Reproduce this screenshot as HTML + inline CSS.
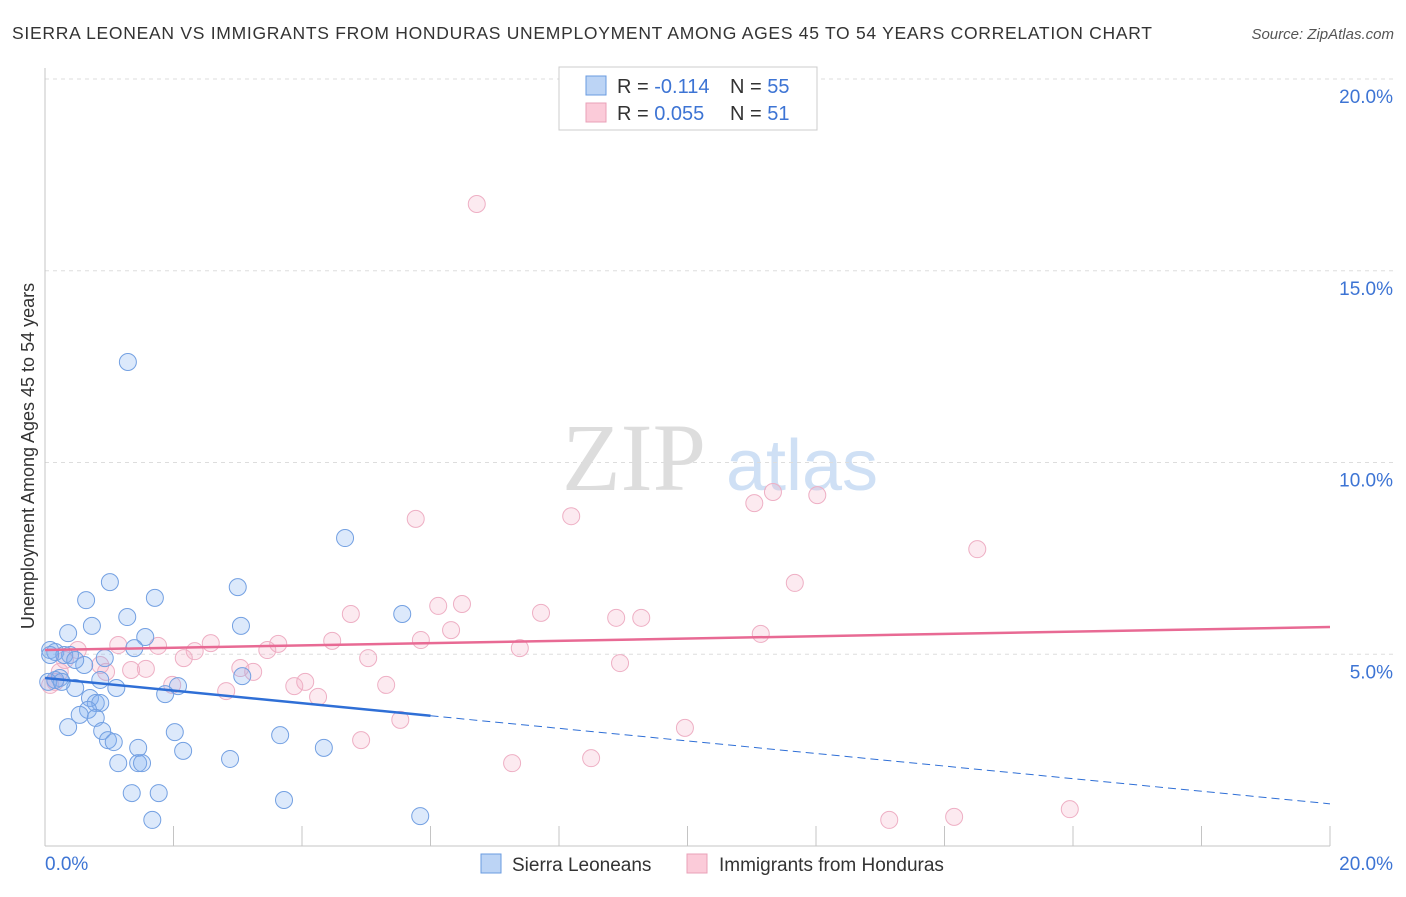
<!DOCTYPE html>
<html><head><meta charset="utf-8"><style>
body{margin:0;background:#fff;font-family:"Liberation Sans",sans-serif}
svg text{font-family:"Liberation Sans",sans-serif}
</style></head><body>
<svg id="c" width="1406" height="892">
<text x="12" y="39" font-size="17.5" fill="#333" textLength="1140" lengthAdjust="spacing">SIERRA LEONEAN VS IMMIGRANTS FROM HONDURAS UNEMPLOYMENT AMONG AGES 45 TO 54 YEARS CORRELATION CHART</text>
<text x="1394" y="39" font-size="15" fill="#555" font-style="italic" text-anchor="end">Source: ZipAtlas.com</text>
<text x="634" y="490" font-size="96" fill="#ddd" text-anchor="middle" style="font-family:'Liberation Serif',serif">ZIP</text>
<text x="802" y="490" font-size="72" fill="#cfe0f5" text-anchor="middle">atlas</text>
<text transform="translate(34,456) rotate(-90)" font-size="18" fill="#333" text-anchor="middle">Unemployment Among Ages 45 to 54 years</text>
<g id="grid"></g><g id="pts"></g><g id="trend"></g>
<g>
<rect x="559" y="67" width="258" height="63" fill="#fff" stroke="#ccc"/>
<rect x="586" y="76" width="20" height="19" fill="#bcd4f5" stroke="#6a9be0"/>
<rect x="586" y="103" width="20" height="19" fill="#fbcbd9" stroke="#e9a0b8"/>
<text x="617" y="93" font-size="20" fill="#333">R = <tspan fill="#3d74d4">-0.114</tspan></text>
<text x="730" y="93" font-size="20" fill="#333">N = <tspan fill="#3d74d4">55</tspan></text>
<text x="617" y="120" font-size="20" fill="#333">R = <tspan fill="#3d74d4">0.055</tspan></text>
<text x="730" y="120" font-size="20" fill="#333">N = <tspan fill="#3d74d4"> 51</tspan></text>
</g>
<g>
<rect x="481" y="854" width="20" height="19" fill="#bcd4f5" stroke="#6a9be0"/>
<text x="512" y="871" font-size="19" fill="#333">Sierra Leoneans</text>
<rect x="687" y="854" width="20" height="19" fill="#fbcbd9" stroke="#e9a0b8"/>
<text x="719" y="871" font-size="19" fill="#333">Immigrants from Honduras</text>
</g>
<text x="45" y="870" font-size="19" fill="#3d74d4">0.0%</text>
<text x="1393" y="870" font-size="19" fill="#3d74d4" text-anchor="end">20.0%</text>
</svg>
<script>
const yTicks=[20,15,10,5];
const yTickLabels=["20.0%","15.0%","10.0%","5.0%"];
const xTicks=[0,2,4,6,8,10,12,14,16,18,20];
const blueX=[1.29,4.67,1.01,3.00,1.71,0.64,1.28,5.56,3.05,0.73,0.36,1.56,1.39,0.08,0.16,0.39,0.93,0.61,0.23,0.16,0.05,0.47,1.11,2.07,1.87,3.07,0.70,0.79,0.86,0.67,0.54,0.79,0.36,0.89,0.98,1.07,2.02,3.66,1.45,2.15,4.34,1.14,1.45,1.51,2.88,1.35,1.77,3.72,1.67,5.84,0.30,0.47,0.26,0.08,0.86];
const blueY=[12.62,8.03,6.88,6.75,6.47,6.41,5.97,6.05,5.74,5.74,5.55,5.45,5.16,5.11,5.06,4.98,4.90,4.72,4.38,4.33,4.28,4.12,4.12,4.17,3.96,4.43,3.86,3.73,3.73,3.55,3.42,3.34,3.10,3.00,2.76,2.71,2.97,2.89,2.56,2.48,2.56,2.16,2.16,2.16,2.27,1.38,1.38,1.20,0.68,0.78,4.98,4.85,4.28,4.98,4.33];
const pinkX=[6.72,11.33,11.04,12.02,5.77,8.19,14.51,11.67,4.76,6.12,6.49,7.72,8.89,9.28,6.32,5.85,4.47,11.14,2.58,3.63,3.46,1.14,1.76,2.33,2.16,7.39,5.03,8.95,3.04,1.34,1.57,3.24,0.51,0.31,0.86,0.95,1.98,4.05,3.88,4.25,2.82,5.31,0.16,0.08,5.53,9.96,4.92,7.27,8.50,13.14,14.15,15.95,0.23];
const pinkY=[16.74,9.23,8.94,9.15,8.53,8.60,7.74,6.86,6.05,6.26,6.31,6.08,5.95,5.95,5.63,5.37,5.35,5.53,5.29,5.27,5.11,5.24,5.22,5.08,4.90,5.16,4.90,4.77,4.64,4.59,4.62,4.54,5.11,4.85,4.72,4.54,4.20,4.28,4.17,3.89,4.04,4.20,4.28,4.20,3.29,3.08,2.76,2.16,2.29,0.68,0.76,0.96,4.54];
const blueTrend=[4.38,1.10], blueSolidEnd=6;
const pinkTrend=[5.11,5.71];
const X=v=>45+v*64.25, Y=v=>846-v*38.35;
const NS="http://www.w3.org/2000/svg";
function mk(t,a,p){const e=document.createElementNS(NS,t);for(const k in a)e.setAttribute(k,a[k]);p.appendChild(e);return e;}
const g=document.getElementById('grid');
yTicks.forEach((t,i)=>{
 const l=mk('line',{x1:45,x2:1395,y1:Y(t),y2:Y(t),stroke:'#ddd','stroke-dasharray':'4,4'},g);
 
 
 const tx=mk('text',{x:1393,y:Y(t)+24,'font-size':19,fill:'#3d74d4','text-anchor':'end'},g);
 tx.textContent=yTickLabels[i];
 
 
});
const ax=mk('line',{x1:45,x2:1330,y1:846,y2:846,stroke:'#c4c4c4'},g);


const ay=mk('line',{x1:45,x2:45,y1:68,y2:846,stroke:'#c4c4c4'},g);


xTicks.forEach(t=>{
 const l=mk('line',{x1:X(t),x2:X(t),y1:826,y2:846,stroke:'#c4c4c4'},g);
 
 
});
const p=document.getElementById('pts');
pinkX.forEach((v,i)=>{
 const c=mk('circle',{cx:X(v),cy:Y(pinkY[i]),r:8.5,fill:'rgba(245,170,195,0.25)',stroke:'#eeafc4','stroke-width':1},p);
 
 
});
blueX.forEach((v,i)=>{
 const c=mk('circle',{cx:X(v),cy:Y(blueY[i]),r:8.5,fill:'rgba(130,175,240,0.28)',stroke:'#73a0e2','stroke-width':1},p);
 
 
});
const tr=document.getElementById('trend');
const bAt=x=>blueTrend[0]+(blueTrend[1]-blueTrend[0])*x/20;
const b1=mk('line',{x1:X(0),y1:Y(blueTrend[0]),x2:X(blueSolidEnd),y2:Y(bAt(blueSolidEnd)),stroke:'#2f6fd6','stroke-width':2.5},tr);


const b2=mk('line',{x1:X(blueSolidEnd),y1:Y(bAt(blueSolidEnd)),x2:X(20),y2:Y(blueTrend[1]),stroke:'#2f6fd6','stroke-width':1,'stroke-dasharray':'8,5'},tr);


const p1=mk('line',{x1:X(0),y1:Y(pinkTrend[0]),x2:X(20),y2:Y(pinkTrend[1]),stroke:'#e86a94','stroke-width':2.5},tr);


</script>
</body></html>
